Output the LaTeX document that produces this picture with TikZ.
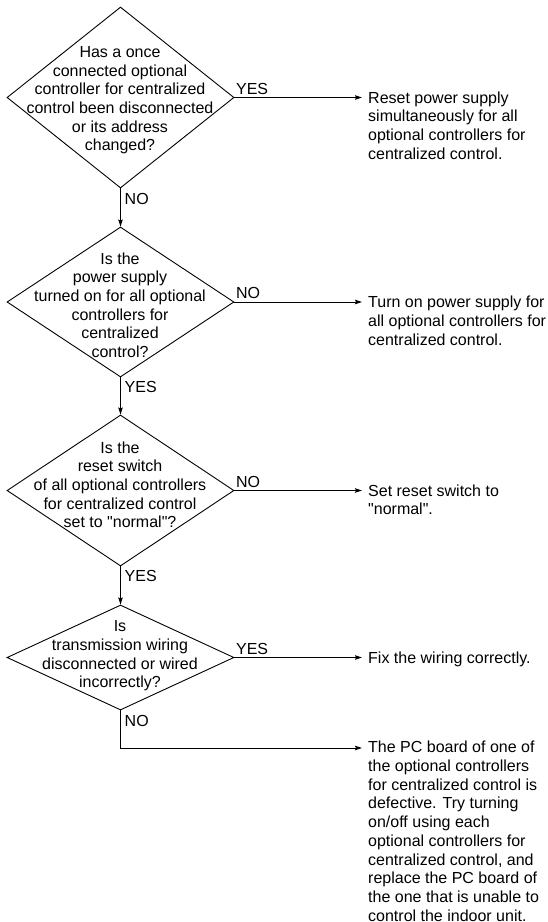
\documentclass[tikz,border=0pt]{standalone}
\usepackage{fontspec}
\setmainfont{Liberation Sans}[Ligatures=TeXOff]
\usetikzlibrary{shapes.geometric,arrows.meta}
\begin{document}
\begin{tikzpicture}[x=1pt,y={(0pt,-1pt)},
  every node/.style={font=\fontsize{16}{18.7}\selectfont, inner sep=0pt, text=black},
  dia/.style={draw=black, shape=diamond, line width=0.9pt, minimum width=227pt},
  qtext/.style={align=center, anchor=north},
  rtext/.style={align=left, anchor=north west},
  lab/.style={anchor=base west},
  arr/.style={draw=black, line width=0.9pt, -{Stealth[length=7pt,width=4.5pt,inset=1pt]}},
  toarr/.style={arr, shorten >=6pt}
]
\useasboundingbox (0,0) rectangle (548,922);

% diamonds
\node[dia, minimum height=181pt] (d1) at (120.5,97.5) {};
\node[dia, minimum height=150pt] (d2) at (120.5,302) {};
\node[dia, minimum height=151pt] (d3) at (120.5,490.5) {};
\node[dia, minimum height=105pt] (d4) at (120.5,657.5) {};

% question texts
\node[qtext] (q1) at (120,44.2) {\strut Has a once\\connected optional\\controller for centralized\\control been disconnected\\or its address\\changed?};
\node[qtext] (q2) at (120,250.9) {\strut Is the\\power supply\\turned on for all optional\\controllers for\\centralized\\control?};
\node[qtext] (q3) at (120,439.9) {\strut Is the\\reset switch\\of all optional controllers\\for centralized control\\set to "normal"?};
\node[qtext] (q4) at (120,618.6) {\strut Is\\transmission wiring\\disconnected or wired\\incorrectly?};

% result texts
\node[rtext] (r1) at (368,90) {\strut Reset power supply\\simultaneously for all\\optional controllers for\\centralized control.};
\node[rtext] (r2) at (368,294.5) {\strut Turn on power supply for\\all optional controllers for\\centralized control.};
\node[rtext] (r3) at (368,483) {\strut Set reset switch to\\"normal".};
\node[rtext] (r4) at (368,650) {\strut Fix the wiring correctly.};
\node[rtext] (r5) at (368,739.5) {\strut The PC board of one of\\the optional controllers\\for centralized control is\\defective. Try turning\\on/off using each\\optional controllers for\\centralized control, and\\replace the PC board of\\the one that is unable to\\control the indoor unit.};

% connectors
\draw[toarr] (d1.east) -- (d1.east -| r1.west);
\draw[toarr] (d2.east) -- (d2.east -| r2.west);
\draw[toarr] (d3.east) -- (d3.east -| r3.west);
\draw[toarr] (d4.east) -- (d4.east -| r4.west);
\draw[arr] (d1.south) -- (d2.north);
\draw[arr] (d2.south) -- (d3.north);
\draw[arr] (d3.south) -- (d4.north);
\coordinate (c5) at (120.5,748);
\draw[toarr] (d4.south) -- (c5) -- (c5 -| r5.west);

% labels
\node[lab] (l1r) at ([shift={(1.5,-3)}]d1.east) {YES};
\node[lab] (l1b) at ([shift={(4,16)}]d1.south) {NO};
\node[lab] (l2r) at ([shift={(1.5,-3.5)}]d2.east) {NO};
\node[lab] (l2b) at ([shift={(4,15.5)}]d2.south) {YES};
\node[lab] (l3r) at ([shift={(1.5,-3.5)}]d3.east) {NO};
\node[lab] (l3b) at ([shift={(4,15.5)}]d3.south) {YES};
\node[lab] (l4r) at ([shift={(1.5,-3.5)}]d4.east) {YES};
\node[lab] (l4b) at ([shift={(4,16)}]d4.south) {NO};
\end{tikzpicture}
\end{document}
